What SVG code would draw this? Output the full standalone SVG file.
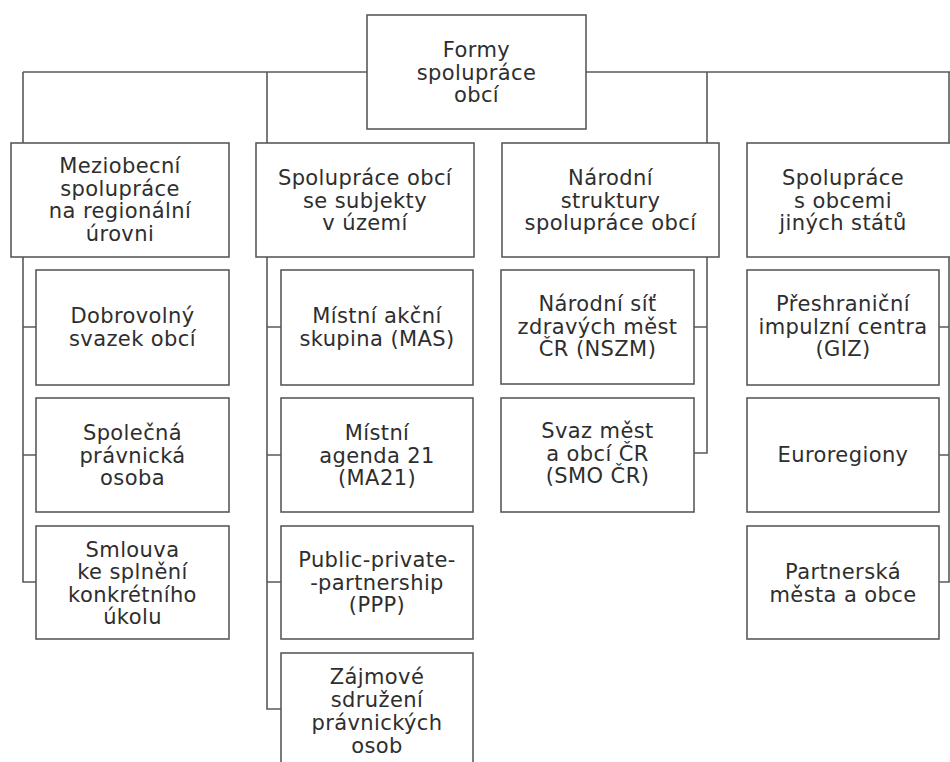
<svg xmlns="http://www.w3.org/2000/svg" width="950" height="762" viewBox="0 0 950 762">
<style>
.box{fill:#fff;stroke:#5a5a5a;stroke-width:1.6}
.con{fill:none;stroke:#5a5a5a;stroke-width:1.6}
text{font-family:"DejaVu Sans","Liberation Sans",sans-serif;font-size:21px;fill:#2e2e2e;text-anchor:middle;letter-spacing:0.4px}
</style>
<rect width="950" height="762" fill="#fff"/>
<g id="connectors">
<path class="con" d="M23,72 H950"/>
<path class="con" d="M23,72 V582 H36 M23,327 H36 M23,455 H36"/>
<path class="con" d="M267,72 V709 H281 M267,327 H281 M267,455 H281 M267,582 H281"/>
<path class="con" d="M707,72 V453 H694 M707,327 H694"/>
<path class="con" d="M949,72 V582 H939 M949,327 H939 M949,455 H939"/>
</g>
<g id="root"><rect class="box" x="367" y="15" width="219" height="114"/>
<text x="476.5" y="57">Formy</text><text x="476.5" y="79.5">spolupráce</text><text x="476.5" y="102">obcí</text></g>
<g id="h1"><rect class="box" x="11" y="143" width="218" height="114"/>
<text x="120" y="173">Meziobecní</text><text x="120" y="195.5">spolupráce</text><text x="120" y="218">na regionální</text><text x="120" y="240.5">úrovni</text></g>
<g id="h2"><rect class="box" x="256" y="143" width="218" height="114"/>
<text x="365" y="185">Spolupráce obcí</text><text x="365" y="207.5">se subjekty</text><text x="365" y="230">v území</text></g>
<g id="h3"><rect class="box" x="502" y="143" width="217" height="114"/>
<text x="610.5" y="185">Národní</text><text x="610.5" y="207.5">struktury</text><text x="610.5" y="230">spolupráce obcí</text></g>
<g id="h4"><rect class="box" x="747" y="143" width="220" height="114"/>
<text x="843" y="185">Spolupráce</text><text x="843" y="207.5">s obcemi</text><text x="843" y="230">jiných států</text></g>
<g id="c1a"><rect class="box" x="36" y="270" width="193" height="115"/>
<text x="132.5" y="323">Dobrovolný</text><text x="132.5" y="345.5">svazek obcí</text></g>
<g id="c1b"><rect class="box" x="36" y="398" width="193" height="114"/>
<text x="132.5" y="440">Společná</text><text x="132.5" y="462.5">právnická</text><text x="132.5" y="485">osoba</text></g>
<g id="c1c"><rect class="box" x="36" y="526" width="193" height="113"/>
<text x="132.5" y="556.5">Smlouva</text><text x="132.5" y="579">ke splnění</text><text x="132.5" y="601.5">konkrétního</text><text x="132.5" y="624">úkolu</text></g>
<g id="c2a"><rect class="box" x="281" y="270" width="192" height="115"/>
<text x="377" y="323">Místní akční</text><text x="377" y="345.5">skupina (MAS)</text></g>
<g id="c2b"><rect class="box" x="281" y="398" width="192" height="114"/>
<text x="377" y="440">Místní</text><text x="377" y="462.5">agenda 21</text><text x="377" y="485">(MA21)</text></g>
<g id="c2c"><rect class="box" x="281" y="526" width="192" height="113"/>
<text x="377" y="567">Public-private-</text><text x="377" y="589.5">-partnership</text><text x="377" y="612">(PPP)</text></g>
<g id="c2d"><rect class="box" x="281" y="653" width="192" height="114"/>
<text x="377" y="684">Zájmové</text><text x="377" y="707">sdružení</text><text x="377" y="730">právnických</text><text x="377" y="753">osob</text></g>
<g id="c3a"><rect class="box" x="501" y="270" width="193" height="114"/>
<text x="597.5" y="311">Národní síť</text><text x="597.5" y="333.5">zdravých měst</text><text x="597.5" y="356">ČR (NSZM)</text></g>
<g id="c3b"><rect class="box" x="501" y="398" width="193" height="114"/>
<text x="597.5" y="438">Svaz měst</text><text x="597.5" y="460.5">a obcí ČR</text><text x="597.5" y="483">(SMO ČR)</text></g>
<g id="c4a"><rect class="box" x="747" y="270" width="192" height="115"/>
<text x="843" y="311">Přeshraniční</text><text x="843" y="333.5">impulzní centra</text><text x="843" y="356">(GIZ)</text></g>
<g id="c4b"><rect class="box" x="747" y="398" width="192" height="114"/>
<text x="843" y="462">Euroregiony</text></g>
<g id="c4c"><rect class="box" x="747" y="526" width="192" height="113"/>
<text x="843" y="579">Partnerská</text><text x="843" y="601.5">města a obce</text></g>
</svg>
